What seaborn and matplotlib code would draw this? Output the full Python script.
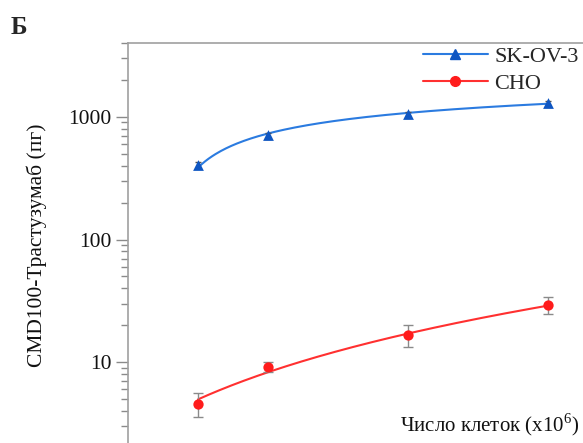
import numpy as np
import pandas as pd
import matplotlib
matplotlib.use("Agg")
import matplotlib.pyplot as plt
import seaborn as sns
from matplotlib.lines import Line2D
from matplotlib.ticker import LogLocator, NullFormatter, FixedLocator, FixedFormatter

# ---- data ----
cells = [0.5, 1.0, 2.0, 3.0]
skov3 = [405, 705, 1065, 1300]
skov3_err = [25, 40, 40, 55]
cho = [4.55, 9.1, 16.6, 29.1]
cho_err_low = [1.0, 0.8, 3.4, 4.6]
cho_err_high = [1.05, 0.9, 3.4, 4.7]
series_names = ["SK-OV-3", "CHO"]
ytick_vals = [10, 100, 1000]
ytick_labels = ["10", "100", "1000"]

sns.set_theme(style="white")
plt.rcParams["font.family"] = ["Liberation Serif", "DejaVu Serif"]
plt.rcParams["mathtext.fontset"] = "custom"
plt.rcParams["mathtext.rm"] = "Liberation Serif"

blue_line = "#2b7be0"
blue_mark = "#0f56c2"
red_line = "#ff3030"
red_mark = "#ff1c1c"
grey = "#8a8a8a"

fig = plt.figure(figsize=(5.83, 4.43), dpi=100)
ax = fig.add_axes([128 / 583, -5 / 443, 462 / 583, 405 / 443])

# fitted curves computed from the data
xs = np.linspace(cells[0], cells[-1], 200)
b, a = np.polyfit(np.log(cells), skov3, 1)
fit_blue = a + b * np.log(xs)
c2 = np.polyfit(cells, cho, 2)
fit_red = np.polyval(c2, xs)
df_fit = pd.DataFrame({"x": np.concatenate([xs, xs]),
                       "y": np.concatenate([fit_blue, fit_red]),
                       "s": [series_names[0]] * len(xs) + [series_names[1]] * len(xs)})
sns.lineplot(data=df_fit, x="x", y="y", hue="s", palette=[blue_line, red_line],
             linewidth=1.5, legend=False, ax=ax)

ax.errorbar(cells, skov3, yerr=skov3_err, fmt="none", ecolor="#555555", elinewidth=1, capsize=2.5, zorder=3)
ax.errorbar(cells, cho, yerr=[cho_err_low, cho_err_high], fmt="none", ecolor=grey, elinewidth=1, capsize=3.5, zorder=3)
df_pts = pd.DataFrame({"x": cells + cells, "y": skov3 + cho,
                       "s": [series_names[0]] * 4 + [series_names[1]] * 4})
sns.scatterplot(data=df_pts[df_pts.s == series_names[0]], x="x", y="y", marker="^", s=60,
                color=blue_mark, edgecolor=blue_mark, linewidth=0, ax=ax, zorder=4, legend=False)
sns.scatterplot(data=df_pts[df_pts.s == series_names[1]], x="x", y="y", marker="o", s=55,
                color=red_mark, edgecolor=red_mark, linewidth=0, ax=ax, zorder=4, legend=False)

ax.set_yscale("log")
ax.set_ylim(2, 4000)
ax.set_xlim(0, 3.3)
ax.set_xticks([])
ax.yaxis.set_major_locator(FixedLocator(ytick_vals))
ax.yaxis.set_major_formatter(FixedFormatter(ytick_labels))
ax.yaxis.set_minor_locator(LogLocator(base=10, subs=np.arange(2, 10)))
ax.yaxis.set_minor_formatter(NullFormatter())
ax.tick_params(axis="y", which="major", direction="out", length=9, width=1, color=grey,
               labelsize=15.5, labelcolor="#111111", pad=3, left=True)
ax.tick_params(axis="y", which="minor", direction="out", length=5, width=1, color=grey, left=True)

for side in ["right", "bottom"]:
    ax.spines[side].set_visible(False)
for side in ["left", "top"]:
    ax.spines[side].set_color("#a0a0a0")
    ax.spines[side].set_linewidth(1.2)

ax.set_xlabel("")
ax.set_ylabel("CMD100-Трастузумаб (пг)", fontsize=15.5, color="#111111")
ax.yaxis.set_label_coords(-0.175, 0.5)

fig.text(579 / 583, 1 - 425 / 443, "Число клеток (x10$^{6}$)", fontsize=15, ha="right", va="center",
         color="#111111")
fig.text(11 / 583, 1 - 27 / 443, "Б", fontsize=18, fontweight="bold", ha="left", va="center")

handles = [Line2D([], [], color=blue_line, marker="^", markersize=7, markerfacecolor=blue_mark,
                  markeredgecolor=blue_mark, linewidth=1.5),
           Line2D([], [], color=red_line, marker="o", markersize=7, markerfacecolor=red_mark,
                  markeredgecolor=red_mark, linewidth=1.5)]
leg = fig.legend(handles, series_names, loc="upper right", bbox_to_anchor=(1.0, 1 - 42 / 443),
                 frameon=False, fontsize=16, handlelength=2.9, handletextpad=0.3,
                 labelspacing=0.3, borderaxespad=0, borderpad=0.2)

fig.savefig("out.png", dpi=100)
